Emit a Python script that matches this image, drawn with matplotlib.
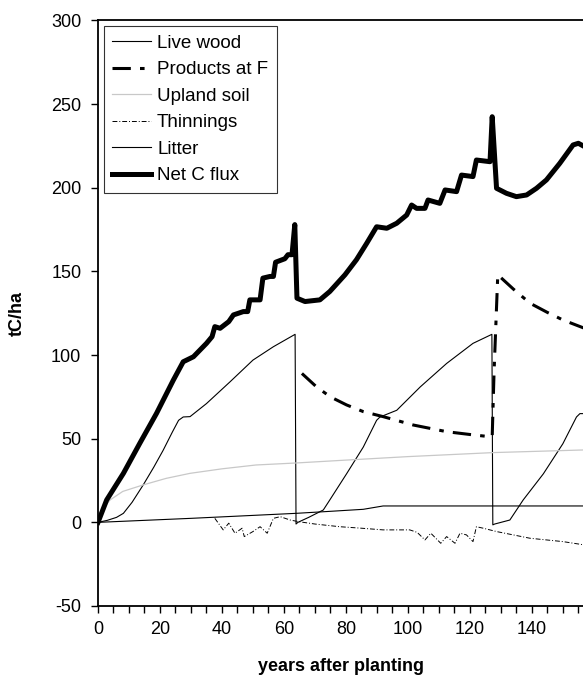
import matplotlib.pyplot as plt

plt.rcParams['font.family'] = ['Liberation Sans', 'DejaVu Sans']
plt.rcParams['axes.unicode_minus'] = False

# years after planting / tC per ha
live_x = [0, 3, 6, 8.2, 11, 14.6, 18, 21, 24, 26, 27.5, 29.7, 35, 42.6, 50, 56.6, 63.6, 63.9,
          64.5, 68, 72.7, 74.8, 80.2, 85.6, 89.9, 91, 96.4, 104, 112.5, 121, 127.1, 127.4,
          128, 132.9, 137.2, 143.7, 150, 154.4, 155.5, 157]
live_y = [0, 1.2, 3, 5.4, 12, 22.4, 33, 43, 54, 61, 63, 63.2, 71, 84, 97, 105, 112.4, -1,
          0, 3, 7.4, 13.4, 29, 45, 61, 63, 67, 81, 95, 107, 112.4, -1.5,
          -1, 1.4, 13.4, 29, 47, 63, 65, 65]

products_x = [65.8, 70.5, 75, 80.2, 85.6, 92, 101.7, 112.5, 121, 126.5, 127.2, 127.8,
              129, 134, 139.4, 145, 150, 157]
products_y = [89, 81, 75, 70.2, 66.2, 63.2, 58.2, 54.2, 52.3, 51.2, 51.2, 90,
              148, 139.5, 131, 125.5, 121, 116]

soil_x = [0, 2, 3.9, 8, 14.6, 22, 29.7, 40, 51, 64, 78, 100, 127.5, 157]
soil_y = [0, 9, 13.4, 18.5, 22.4, 26.3, 29.3, 32, 34.3, 35.5, 37, 39.3, 41.7, 43.3]

thin_x = [37.7, 40.4, 42.2, 44.2, 46.5, 47.2, 50, 52.3, 54.6, 56.6, 58.8, 62, 64.8, 70,
          78, 85, 92, 100.6, 103, 105.5, 107.4, 110.6, 112.5, 115.2, 116.8, 118.9, 121,
          122.1, 124.3, 128.6, 139.4, 150, 157]
thin_y = [2.4, -4.5, -0.5, -6.5, -3.5, -8.5, -5.5, -2.6, -6.5, 2.4, 3.4, 1.4, 0.4, -1,
          -2.6, -3.5, -4.5, -4.5, -6, -10.5, -6.5, -12.5, -8.5, -12.5, -6.5, -7.5, -11.5,
          -2.6, -3.5, -5.5, -9.5, -11.5, -13.5]

litter_x = [0, 30, 64, 75, 85.6, 92, 157]
litter_y = [0, 2.4, 5.4, 6.6, 7.8, 9.8, 9.8]

net_x = [0, 2.8, 8.2, 13.5, 18.9, 24.3, 27.5, 30.8, 35, 36.8, 37.7, 39.4, 42.2, 43.7, 46.9,
         48.3, 49, 52.3, 53.2, 55.5, 56.6, 57.3, 60.3, 61.3, 62.6, 63.5, 64.2, 66.8, 71.6,
         74.8, 79.7, 83.4, 86.7, 89.9, 93.2, 96.4, 99.6, 101.2, 102.8, 105.5, 106.5, 110.3,
         112, 115.7, 117.3, 121, 122.1, 126.5, 127.2, 128.6, 131.8, 135, 138.3, 141.5,
         144.7, 149, 153.3, 155, 157]
net_y = [0, 13.4, 29.3, 47.3, 65.2, 85, 96, 99, 107, 111, 117, 116, 120, 124, 126,
         126, 133, 133, 146, 147, 147, 155.5, 157.6, 160, 160, 178, 134, 132, 133,
         138, 148, 157, 166.8, 176.7, 175.8, 178.8, 183.7, 189.7, 187.7, 187.7, 192.7, 190.7,
         198.7, 197.7, 207.6, 206.7, 216.6, 215.6, 242.5, 199.7, 196.7, 194.7, 195.7, 199.7,
         204.7, 214.6, 225.6, 226.6, 224.6]

fig = plt.figure(figsize=(5.83, 6.79), dpi=100)
ax = fig.add_axes([98 / 583, 73 / 679, 1 - 98 / 583, 585.5 / 679])

ax.plot(live_x, live_y, color='black', lw=0.8, label='Live wood')
ax.plot(products_x, products_y, color='black', lw=2.2, dashes=(6, 3, 1.5, 3),
        label='Products at F')
ax.plot(soil_x, soil_y, color='#c8c8c8', lw=0.9, label='Upland soil')
ax.plot(thin_x, thin_y, color='black', lw=0.7, dashes=(5, 2, 1, 2), label='Thinnings')
ax.plot(litter_x, litter_y, color='black', lw=0.8, label='Litter')
ax.plot(net_x, net_y, color='black', lw=3.6, solid_joinstyle='round', label='Net C flux')

ax.set_xlim(0, 156.5)
ax.set_ylim(-50, 300)
ax.set_xticks(range(0, 160, 5))
ax.set_xticklabels([str(v) if v % 20 == 0 else '' for v in range(0, 160, 5)])
ax.set_yticks(range(-50, 301, 50))
ax.tick_params(axis='x', direction='out', length=5, width=1, labelsize=13, pad=6)
ax.tick_params(axis='y', direction='out', length=5, width=1, labelsize=13, pad=7)
ax.spines['right'].set_visible(False)
for s in ['left', 'bottom', 'top']:
    ax.spines[s].set_linewidth(1.3)

ax.set_xlabel('years after planting', fontsize=13, fontweight='bold', labelpad=14)
ax.set_ylabel('tC/ha', fontsize=13, fontweight='bold', labelpad=18)

leg = ax.legend(loc='upper left', fontsize=13.5, frameon=True, fancybox=False,
                edgecolor='black', handlelength=2.1, handletextpad=0.3,
                borderpad=0.45, labelspacing=0.5, borderaxespad=0.3)
leg.get_frame().set_linewidth(0.8)

fig.savefig('out.png', dpi=100)
